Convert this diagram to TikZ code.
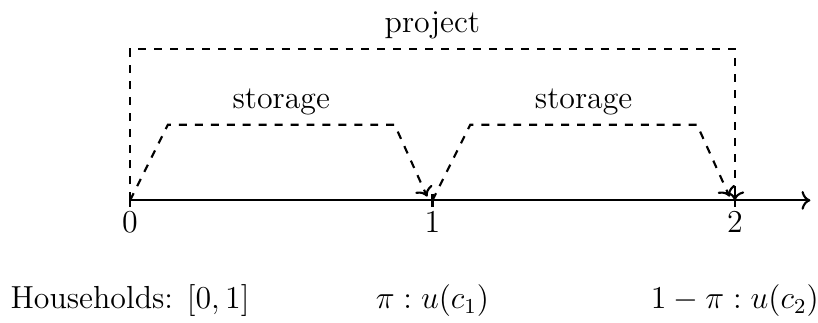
\documentclass[tikz,border=0pt]{standalone}
\usetikzlibrary{arrows.meta}

\begin{document}
\begin{tikzpicture}[
  lbl/.style={font=\large},
  axis/.style={thick, ->},
  flow/.style={thick, dashed, ->},
  tickmark/.style={thick}
]
\useasboundingbox (-1.72,-1.61) rectangle (9.10,2.65);
% time axis
\coordinate (p0) at (0,0);
\coordinate (p1) at (4,0);
\coordinate (p2) at (8,0);
\coordinate (tend) at (9,0);
\draw[axis] (p0) -- (tend);
\foreach \i in {0,1,2}
  \draw[tickmark] ([yshift=0.09cm]p\i) -- ([yshift=-0.09cm]p\i) node[lbl, below, inner sep=1pt] (t\i) {\i};

% project
\coordinate (pl) at (0,2);
\coordinate (pr) at (8,2);
\draw[flow] (p0) -- (pl) -- node[lbl, above] (proj) {project} (pr) -- (p2);

% storage
\coordinate (s1a) at (0.5,1);
\coordinate (s1b) at (3.5,1);
\coordinate (s1e) at (3.93,0.05);
\coordinate (s2a) at (4.5,1);
\coordinate (s2b) at (7.5,1);
\coordinate (s2e) at (7.93,0.05);
\draw[flow] (p0) -- (s1a) -- node[lbl, above] (st1) {storage} (s1b) -- (s1e);
\draw[flow] (p1) -- (s2a) -- node[lbl, above] (st2) {storage} (s2b) -- (s2e);

% households
\node[lbl, anchor=base] (hh) at (0,-1.43) {Households: $[0,1]$};
\node[lbl, anchor=base] (u1) at (4,-1.43) {$\pi : u(c_1)$};
\node[lbl, anchor=base] (u2) at (8,-1.43) {$1-\pi : u(c_2)$};
\end{tikzpicture}
\end{document}
